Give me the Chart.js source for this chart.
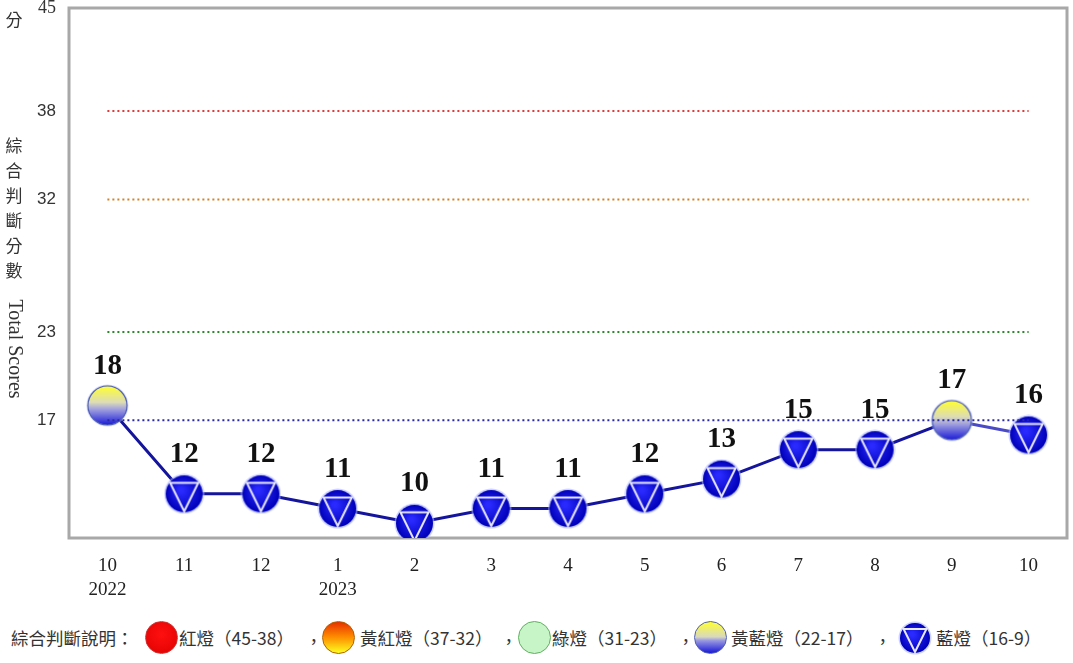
<!DOCTYPE html>
<html>
<head>
<meta charset="utf-8">
<script src="https://cdn.jsdelivr.net/npm/chart.js@4/dist/chart.umd.min.js"></script>
<style>
  body { margin: 0; background: #fff; width: 1073px; height: 663px; overflow: hidden; position: relative; }
  #wrap { position: absolute; left: 0; top: 0; width: 1073px; height: 600px; }
  #legend { position: absolute; left: 0; top: 621px; width: 1073px; height: 34px;
    font-family: "Noto Sans CJK TC", sans-serif; font-size: 17.5px; color: #333; white-space: nowrap; }
  #legend > * { position: absolute; top: 0; line-height: 34px; }
  .dot { width: 33px; height: 33px; border-radius: 50%; box-sizing: border-box; }
  .red { background: radial-gradient(circle at 50% 40%, #ff1010, #e00000); border: 1px solid #d03030; }
  .orange { background: linear-gradient(#e83000, #ff9000 50%, #ffff20); border: 1px solid #b06000; }
  .green { background: #c8f5c8; border: 1px solid #60b060; }
  .yb { background: linear-gradient(#ffff30, #d8d8c0 48%, #9898e0 60%, #1818d8); border: 1px solid #5060b0; }
  .comma { top: 3px !important; }
</style>
</head>
<body>
<div id="wrap"><canvas id="chart"></canvas></div>
<div id="legend">
  <span style="left:11px">綜合判斷說明：</span>
  <span class="dot red" style="left:145px"></span><span style="left:179px">紅燈（45-38）</span><span class="comma" style="left:305px">，</span>
  <span class="dot orange" style="left:322px"></span><span style="left:360px">黃紅燈（37-32）</span><span class="comma" style="left:500px">，</span>
  <span class="dot green" style="left:518px"></span><span style="left:552px">綠燈（31-23）</span><span class="comma" style="left:677px">，</span>
  <span class="dot yb" style="left:694px"></span><span style="left:731px">黃藍燈（22-17）</span><span class="comma" style="left:874px">，</span>
  <canvas id="legBlue" width="34" height="34" style="left:898px"></canvas><span style="left:936px">藍燈（16-9）</span>
</div>
<script>
const months = ['10', '11', '12', '1', '2', '3', '4', '5', '6', '7', '8', '9', '10'];
const years = ['2022', '', '', '2023', '', '', '', '', '', '', '', '', ''];
const scores = [18, 12, 12, 11, 10, 11, 11, 12, 13, 15, 15, 17, 16];
const yTicks = [17, 23, 32, 38, 45];
const thresholds = [38, 32, 23, 17];
const thresholdColors = ['#e03a3a', '#d0822a', '#2a8a2a', '#2a2aa8'];

function blueMarker(size) {
  const c = document.createElement('canvas');
  c.width = c.height = size;
  const g = c.getContext('2d');
  const cx = size / 2, r = size / 2 - 2;
  g.beginPath(); g.arc(cx, cx, r + 1.5, 0, Math.PI * 2);
  g.fillStyle = 'rgba(170,180,255,0.6)'; g.fill();
  const grad = g.createRadialGradient(cx - 3, cx - 4, 2, cx, cx, r);
  grad.addColorStop(0, '#2a2aff');
  grad.addColorStop(1, '#0000b8');
  g.beginPath(); g.arc(cx, cx, r, 0, Math.PI * 2);
  g.fillStyle = grad; g.fill();
  const ty = cx - r * 0.6, tx = r * 0.76;
  g.beginPath();
  g.moveTo(cx - tx, ty); g.lineTo(cx + tx, ty); g.lineTo(cx, cx + r - 1); g.closePath();
  g.strokeStyle = '#e8e8ff'; g.lineWidth = 2; g.stroke();
  return c;
}

function ybMarker(size) {
  const c = document.createElement('canvas');
  c.width = c.height = size;
  const g = c.getContext('2d');
  const cx = size / 2, r = size / 2 - 2;
  g.beginPath(); g.arc(cx, cx, r + 1.5, 0, Math.PI * 2);
  g.fillStyle = 'rgba(170,180,255,0.5)'; g.fill();
  const grad = g.createLinearGradient(0, cx - r, 0, cx + r);
  grad.addColorStop(0, '#ffff30');
  grad.addColorStop(0.42, '#dcdcb8');
  grad.addColorStop(0.6, '#a0a0e0');
  grad.addColorStop(1, '#1a1ad8');
  g.beginPath(); g.arc(cx, cx, r, 0, Math.PI * 2);
  g.fillStyle = grad; g.fill();
  g.strokeStyle = '#5060b0'; g.lineWidth = 1.2; g.stroke();
  return c;
}

const blueImg = blueMarker(41);
const ybImg = ybMarker(43);
document.getElementById('legBlue').getContext('2d').drawImage(blueMarker(34), 0, 0);

const framePlugin = {
  id: 'frame',
  beforeDatasetsDraw(chart) {
    const { ctx, chartArea: a } = chart;
    ctx.save();
    ctx.strokeStyle = '#a8a8a8';
    ctx.lineWidth = 3;
    ctx.strokeRect(a.left, a.top, a.right - a.left, a.bottom - a.top);
    ctx.restore();
  },
};

const valueLabels = {
  id: 'valueLabels',
  afterDatasetsDraw(chart) {
    const { ctx } = chart;
    const meta = chart.getDatasetMeta(thresholds.length);
    ctx.save();
    ctx.font = 'bold 29px "Liberation Serif", serif';
    ctx.fillStyle = '#111';
    ctx.textAlign = 'center';
    ctx.textBaseline = 'alphabetic';
    meta.data.forEach((p, i) => ctx.fillText(String(scores[i]), p.x, p.y - 32));
    ctx.restore();
  },
};

const yTitle = {
  id: 'yTitle',
  afterDraw(chart) {
    const { ctx } = chart;
    ctx.save();
    ctx.fillStyle = '#333';
    ctx.textAlign = 'center';
    ctx.textBaseline = 'middle';
    ctx.font = '17px "Noto Sans CJK TC", sans-serif';
    ctx.fillText('分', 14, 20);
    ['綜', '合', '判', '斷', '分', '數'].forEach((ch, i) => ctx.fillText(ch, 14, 146 + i * 25));
    ctx.translate(14, 349);
    ctx.rotate(Math.PI / 2);
    ctx.font = '20px "Liberation Serif", serif';
    ctx.fillText('Total Scores', 0, 0);
    ctx.restore();
  },
};

const thresholdSets = thresholds.map((t, i) => ({
  data: months.map(() => t),
  borderColor: thresholdColors[i],
  borderWidth: 2,
  borderDash: [2, 3],
  pointRadius: 0,
  fill: false,
}));

new Chart(document.getElementById('chart'), {
  type: 'line',
  data: {
    labels: months.map((m, i) => years[i] ? [m, years[i]] : m),
    datasets: [
      ...thresholdSets,
      {
        data: scores,
        borderColor: '#14149c',
        borderWidth: 3,
        segment: { borderColor: c => c.p0DataIndex === scores.length - 2 ? '#4a4ac8' : undefined },
        pointStyle: scores.map(v => v >= 17 ? ybImg : blueImg),
        pointRadius: 19,
        fill: false,
      },
    ],
  },
  options: {
    responsive: true,
    maintainAspectRatio: false,
    animation: false,
    layout: { autoPadding: false, padding: { top: 8, right: 6, left: 0, bottom: 0 } },
    plugins: { legend: { display: false }, tooltip: { enabled: false } },
    scales: {
      x: {
        offset: true,
        grid: { display: false },
        border: { display: false },
        ticks: { color: '#222', padding: 8, font: { family: '"Liberation Serif", serif', size: 19, lineHeight: 1.25 }, maxRotation: 0 },
        afterFit: s => { s.height = 62; s.paddingLeft = 0; s.paddingRight = 0; },
      },
      y: {
        min: 9,
        max: 45,
        grid: { display: false, drawTicks: false },
        border: { display: false },
        afterBuildTicks: s => { s.ticks = yTicks.map(v => ({ value: v })); },
        ticks: {
          color: '#333',
          padding: 13,
          font: c => c.tick && c.tick.value === 45
            ? { family: '"Liberation Serif", serif', size: 18 }
            : { family: '"Liberation Sans", sans-serif', size: 17 },
        },
        afterFit: s => { s.width = 69; s.paddingTop = 0; s.paddingBottom = 0; },
      },
    },
  },
  plugins: [framePlugin, valueLabels, yTitle],
});
</script>
</body>
</html>
